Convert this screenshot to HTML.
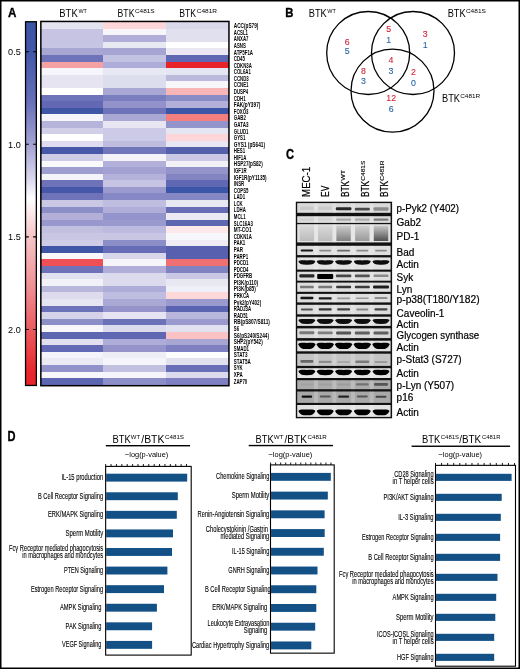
<!DOCTYPE html>
<html><head><meta charset="utf-8"><title>Figure</title>
<style>
html,body{margin:0;padding:0;background:#fff;}
body{width:520px;height:669px;overflow:hidden;}
svg{display:block;font-family:'Liberation Sans', Arial, Helvetica, sans-serif;}
</style></head><body>
<svg width="520" height="669" viewBox="0 0 520 669">
<rect width="520" height="669" fill="#fff"/>
<text x="7.90" y="17.00" font-size="13.4" font-weight="bold" textLength="8.40" lengthAdjust="spacingAndGlyphs" stroke="#000" stroke-width="0.35">A</text>
<text x="59.30" y="16.60" font-size="10.6" textLength="18.40" lengthAdjust="spacingAndGlyphs">BTK</text>
<text x="78.40" y="12.60" font-size="5.6" textLength="8.40" lengthAdjust="spacingAndGlyphs">WT</text>
<text x="117.60" y="16.60" font-size="10.6" textLength="16.80" lengthAdjust="spacingAndGlyphs">BTK</text>
<text x="134.90" y="12.60" font-size="5.6" textLength="19.80" lengthAdjust="spacingAndGlyphs">C481S</text>
<text x="179.30" y="16.60" font-size="10.6" textLength="16.80" lengthAdjust="spacingAndGlyphs">BTK</text>
<text x="196.70" y="12.60" font-size="5.6" textLength="20.40" lengthAdjust="spacingAndGlyphs">C481R</text>
<defs>
<linearGradient id="cb" x1="0" y1="0" x2="0" y2="1">
<stop offset="0" stop-color="#3d55a5"/>
<stop offset="0.08" stop-color="#4157a7"/>
<stop offset="0.22" stop-color="#6870b8"/>
<stop offset="0.34" stop-color="#a5a4d3"/>
<stop offset="0.43" stop-color="#d8d6ec"/>
<stop offset="0.485" stop-color="#ffffff"/>
<stop offset="0.59" stop-color="#f6c6c8"/>
<stop offset="0.72" stop-color="#f09397"/>
<stop offset="0.85" stop-color="#eb5a5e"/>
<stop offset="0.96" stop-color="#e8282d"/>
<stop offset="1" stop-color="#e82429"/>
</linearGradient>
<filter id="bl" x="-20%" y="-50%" width="140%" height="200%"><feGaussianBlur stdDeviation="0.55"/></filter>
<filter id="bl2" x="-20%" y="-50%" width="140%" height="200%"><feGaussianBlur stdDeviation="0.9"/></filter>
</defs>
<rect x="25.55" y="21.75" width="10.8" height="363.7" fill="url(#cb)" stroke="#000" stroke-width="1.3"/>
<path d="M25.6 51.8h3.2M36.3 51.8h-3.2" stroke="#000" stroke-width="1.1"/>
<text x="8.10" y="55.10" font-size="9.2" textLength="12.70" lengthAdjust="spacingAndGlyphs">0.5</text>
<path d="M25.6 144.3h3.2M36.3 144.3h-3.2" stroke="#000" stroke-width="1.1"/>
<text x="8.10" y="147.60" font-size="9.2" textLength="12.70" lengthAdjust="spacingAndGlyphs">1.0</text>
<path d="M25.6 236.9h3.2M36.3 236.9h-3.2" stroke="#000" stroke-width="1.1"/>
<text x="8.10" y="240.20" font-size="9.2" textLength="12.70" lengthAdjust="spacingAndGlyphs">1.5</text>
<path d="M25.6 329.5h3.2M36.3 329.5h-3.2" stroke="#000" stroke-width="1.1"/>
<text x="8.10" y="332.80" font-size="9.2" textLength="12.70" lengthAdjust="spacingAndGlyphs">2.0</text>
<g shape-rendering="crispEdges">
<rect x="41.00" y="22.00" width="62.30" height="6.89" fill="#e4e3f0"/>
<rect x="103.00" y="22.00" width="63.60" height="6.89" fill="#fcd6d8"/>
<rect x="166.30" y="22.00" width="62.60" height="6.89" fill="#d9d9eb"/>
<rect x="41.00" y="28.59" width="62.30" height="6.89" fill="#c6c4e2"/>
<rect x="103.00" y="28.59" width="63.60" height="6.89" fill="#f5f5fa"/>
<rect x="166.30" y="28.59" width="62.60" height="6.89" fill="#e0e0ef"/>
<rect x="41.00" y="35.19" width="62.30" height="6.89" fill="#c6c4e2"/>
<rect x="103.00" y="35.19" width="63.60" height="6.89" fill="#b0aed8"/>
<rect x="166.30" y="35.19" width="62.60" height="6.89" fill="#e0e0ef"/>
<rect x="41.00" y="41.78" width="62.30" height="6.89" fill="#c6c6e4"/>
<rect x="103.00" y="41.78" width="63.60" height="6.89" fill="#e6e8f2"/>
<rect x="166.30" y="41.78" width="62.60" height="6.89" fill="#ffffff"/>
<rect x="41.00" y="48.38" width="62.30" height="6.89" fill="#a8a6d2"/>
<rect x="103.00" y="48.38" width="63.60" height="6.89" fill="#a6a4d2"/>
<rect x="166.30" y="48.38" width="62.60" height="6.89" fill="#ebe7f3"/>
<rect x="41.00" y="54.98" width="62.30" height="6.89" fill="#6d72b9"/>
<rect x="103.00" y="54.98" width="63.60" height="6.89" fill="#c4c2e2"/>
<rect x="166.30" y="54.98" width="62.60" height="6.89" fill="#5f68b2"/>
<rect x="41.00" y="61.57" width="62.30" height="6.89" fill="#f4a1a3"/>
<rect x="103.00" y="61.57" width="63.60" height="6.89" fill="#aeacd8"/>
<rect x="166.30" y="61.57" width="62.60" height="6.89" fill="#e82429"/>
<rect x="41.00" y="68.16" width="62.30" height="6.89" fill="#f6f5fb"/>
<rect x="103.00" y="68.16" width="63.60" height="6.89" fill="#e8e8f4"/>
<rect x="166.30" y="68.16" width="62.60" height="6.89" fill="#e4e6f1"/>
<rect x="41.00" y="74.76" width="62.30" height="6.89" fill="#e6e4f0"/>
<rect x="103.00" y="74.76" width="63.60" height="6.89" fill="#dcdeee"/>
<rect x="166.30" y="74.76" width="62.60" height="6.89" fill="#bbb9dc"/>
<rect x="41.00" y="81.35" width="62.30" height="6.89" fill="#e6e4f0"/>
<rect x="103.00" y="81.35" width="63.60" height="6.89" fill="#dcdeee"/>
<rect x="166.30" y="81.35" width="62.60" height="6.89" fill="#f7f7fb"/>
<rect x="41.00" y="87.95" width="62.30" height="6.89" fill="#ffffff"/>
<rect x="103.00" y="87.95" width="63.60" height="6.89" fill="#a9a7d4"/>
<rect x="166.30" y="87.95" width="62.60" height="6.89" fill="#f8b6b8"/>
<rect x="41.00" y="94.55" width="62.30" height="6.89" fill="#6d72b9"/>
<rect x="103.00" y="94.55" width="63.60" height="6.89" fill="#7a7ebf"/>
<rect x="166.30" y="94.55" width="62.60" height="6.89" fill="#898bc6"/>
<rect x="41.00" y="101.14" width="62.30" height="6.89" fill="#6268b4"/>
<rect x="103.00" y="101.14" width="63.60" height="6.89" fill="#9392ca"/>
<rect x="166.30" y="101.14" width="62.60" height="6.89" fill="#b2b0d9"/>
<rect x="41.00" y="107.73" width="62.30" height="6.89" fill="#3f55a5"/>
<rect x="103.00" y="107.73" width="63.60" height="6.89" fill="#6e72b9"/>
<rect x="166.30" y="107.73" width="62.60" height="6.89" fill="#3d55a6"/>
<rect x="41.00" y="114.33" width="62.30" height="6.89" fill="#f5f4fa"/>
<rect x="103.00" y="114.33" width="63.60" height="6.89" fill="#a9a7d4"/>
<rect x="166.30" y="114.33" width="62.60" height="6.89" fill="#f27e7e"/>
<rect x="41.00" y="120.92" width="62.30" height="6.89" fill="#b6b4da"/>
<rect x="103.00" y="120.92" width="63.60" height="6.89" fill="#e8e6f2"/>
<rect x="166.30" y="120.92" width="62.60" height="6.89" fill="#9294cb"/>
<rect x="41.00" y="127.52" width="62.30" height="6.89" fill="#d2d0e8"/>
<rect x="103.00" y="127.52" width="63.60" height="6.89" fill="#cccae6"/>
<rect x="166.30" y="127.52" width="62.60" height="6.89" fill="#e4e6f1"/>
<rect x="41.00" y="134.12" width="62.30" height="6.89" fill="#ffffff"/>
<rect x="103.00" y="134.12" width="63.60" height="6.89" fill="#cccae6"/>
<rect x="166.30" y="134.12" width="62.60" height="6.89" fill="#fcd6d8"/>
<rect x="41.00" y="140.71" width="62.30" height="6.89" fill="#dedcee"/>
<rect x="103.00" y="140.71" width="63.60" height="6.89" fill="#bebcdf"/>
<rect x="166.30" y="140.71" width="62.60" height="6.89" fill="#e8e6f2"/>
<rect x="41.00" y="147.31" width="62.30" height="6.89" fill="#4758a9"/>
<rect x="103.00" y="147.31" width="63.60" height="6.89" fill="#7176bb"/>
<rect x="166.30" y="147.31" width="62.60" height="6.89" fill="#5560ad"/>
<rect x="41.00" y="153.90" width="62.30" height="6.89" fill="#cecce6"/>
<rect x="103.00" y="153.90" width="63.60" height="6.89" fill="#f4f3f9"/>
<rect x="166.30" y="153.90" width="62.60" height="6.89" fill="#cbc9e5"/>
<rect x="41.00" y="160.50" width="62.30" height="6.89" fill="#fafafd"/>
<rect x="103.00" y="160.50" width="63.60" height="6.89" fill="#b2b0d9"/>
<rect x="166.30" y="160.50" width="62.60" height="6.89" fill="#f2f1f8"/>
<rect x="41.00" y="167.09" width="62.30" height="6.89" fill="#9e9ed0"/>
<rect x="103.00" y="167.09" width="63.60" height="6.89" fill="#a2a1d2"/>
<rect x="166.30" y="167.09" width="62.60" height="6.89" fill="#9494cb"/>
<rect x="41.00" y="173.69" width="62.30" height="6.89" fill="#f4f4fa"/>
<rect x="103.00" y="173.69" width="63.60" height="6.89" fill="#b4b2da"/>
<rect x="166.30" y="173.69" width="62.60" height="6.89" fill="#8385c3"/>
<rect x="41.00" y="180.28" width="62.30" height="6.89" fill="#6d72b9"/>
<rect x="103.00" y="180.28" width="63.60" height="6.89" fill="#c6c4e2"/>
<rect x="166.30" y="180.28" width="62.60" height="6.89" fill="#6168b3"/>
<rect x="41.00" y="186.88" width="62.30" height="6.89" fill="#4457a8"/>
<rect x="103.00" y="186.88" width="63.60" height="6.89" fill="#9a9acf"/>
<rect x="166.30" y="186.88" width="62.60" height="6.89" fill="#3c56a7"/>
<rect x="41.00" y="193.47" width="62.30" height="6.89" fill="#6e73ba"/>
<rect x="103.00" y="193.47" width="63.60" height="6.89" fill="#8688c5"/>
<rect x="166.30" y="193.47" width="62.60" height="6.89" fill="#8688c5"/>
<rect x="41.00" y="200.06" width="62.30" height="6.89" fill="#cac8e4"/>
<rect x="103.00" y="200.06" width="63.60" height="6.89" fill="#c0bee0"/>
<rect x="166.30" y="200.06" width="62.60" height="6.89" fill="#e6e8f2"/>
<rect x="41.00" y="206.66" width="62.30" height="6.89" fill="#8c8ec8"/>
<rect x="103.00" y="206.66" width="63.60" height="6.89" fill="#b0aed8"/>
<rect x="166.30" y="206.66" width="62.60" height="6.89" fill="#666db6"/>
<rect x="41.00" y="213.25" width="62.30" height="6.89" fill="#b2b0d9"/>
<rect x="103.00" y="213.25" width="63.60" height="6.89" fill="#9294cb"/>
<rect x="166.30" y="213.25" width="62.60" height="6.89" fill="#ebeaf4"/>
<rect x="41.00" y="219.85" width="62.30" height="6.89" fill="#9898ce"/>
<rect x="103.00" y="219.85" width="63.60" height="6.89" fill="#9a9acf"/>
<rect x="166.30" y="219.85" width="62.60" height="6.89" fill="#5d66b1"/>
<rect x="41.00" y="226.44" width="62.30" height="6.89" fill="#c2c0e1"/>
<rect x="103.00" y="226.44" width="63.60" height="6.89" fill="#bcbade"/>
<rect x="166.30" y="226.44" width="62.60" height="6.89" fill="#fde8ea"/>
<rect x="41.00" y="233.04" width="62.30" height="6.89" fill="#c8c6e3"/>
<rect x="103.00" y="233.04" width="63.60" height="6.89" fill="#c8c6e3"/>
<rect x="166.30" y="233.04" width="62.60" height="6.89" fill="#f6f6fb"/>
<rect x="41.00" y="239.63" width="62.30" height="6.89" fill="#cecce6"/>
<rect x="103.00" y="239.63" width="63.60" height="6.89" fill="#8c8ec8"/>
<rect x="166.30" y="239.63" width="62.60" height="6.89" fill="#eeedf6"/>
<rect x="41.00" y="246.23" width="62.30" height="6.89" fill="#3f56a7"/>
<rect x="103.00" y="246.23" width="63.60" height="6.89" fill="#666cb6"/>
<rect x="166.30" y="246.23" width="62.60" height="6.89" fill="#5760ae"/>
<rect x="41.00" y="252.82" width="62.30" height="6.89" fill="#f8f8fc"/>
<rect x="103.00" y="252.82" width="63.60" height="6.89" fill="#d8d6ea"/>
<rect x="166.30" y="252.82" width="62.60" height="6.89" fill="#5760ae"/>
<rect x="41.00" y="259.42" width="62.30" height="6.89" fill="#ef5055"/>
<rect x="103.00" y="259.42" width="63.60" height="6.89" fill="#f6f5fa"/>
<rect x="166.30" y="259.42" width="62.60" height="6.89" fill="#f07072"/>
<rect x="41.00" y="266.01" width="62.30" height="6.89" fill="#6d72b9"/>
<rect x="103.00" y="266.01" width="63.60" height="6.89" fill="#b0aed8"/>
<rect x="166.30" y="266.01" width="62.60" height="6.89" fill="#8082c2"/>
<rect x="41.00" y="272.61" width="62.30" height="6.89" fill="#e2e1ef"/>
<rect x="103.00" y="272.61" width="63.60" height="6.89" fill="#dcdaed"/>
<rect x="166.30" y="272.61" width="62.60" height="6.89" fill="#cac8e4"/>
<rect x="41.00" y="279.20" width="62.30" height="6.89" fill="#f2f1f8"/>
<rect x="103.00" y="279.20" width="63.60" height="6.89" fill="#dcdaed"/>
<rect x="166.30" y="279.20" width="62.60" height="6.89" fill="#e8e8f3"/>
<rect x="41.00" y="285.80" width="62.30" height="6.89" fill="#b8b6da"/>
<rect x="103.00" y="285.80" width="63.60" height="6.89" fill="#aeacd8"/>
<rect x="166.30" y="285.80" width="62.60" height="6.89" fill="#f0f0f8"/>
<rect x="41.00" y="292.39" width="62.30" height="6.89" fill="#dddbed"/>
<rect x="103.00" y="292.39" width="63.60" height="6.89" fill="#c0bee0"/>
<rect x="166.30" y="292.39" width="62.60" height="6.89" fill="#fcd8d9"/>
<rect x="41.00" y="298.99" width="62.30" height="6.89" fill="#e6e5f2"/>
<rect x="103.00" y="298.99" width="63.60" height="6.89" fill="#aaa8d5"/>
<rect x="166.30" y="298.99" width="62.60" height="6.89" fill="#9a9acf"/>
<rect x="41.00" y="305.58" width="62.30" height="6.89" fill="#6c72b8"/>
<rect x="103.00" y="305.58" width="63.60" height="6.89" fill="#9494cb"/>
<rect x="166.30" y="305.58" width="62.60" height="6.89" fill="#5b64b0"/>
<rect x="41.00" y="312.18" width="62.30" height="6.89" fill="#d4d3e9"/>
<rect x="103.00" y="312.18" width="63.60" height="6.89" fill="#e6e4f2"/>
<rect x="166.30" y="312.18" width="62.60" height="6.89" fill="#b8b6da"/>
<rect x="41.00" y="318.77" width="62.30" height="6.89" fill="#8c8ec8"/>
<rect x="103.00" y="318.77" width="63.60" height="6.89" fill="#6c72b8"/>
<rect x="166.30" y="318.77" width="62.60" height="6.89" fill="#9a9acf"/>
<rect x="41.00" y="325.37" width="62.30" height="6.89" fill="#f6f6fb"/>
<rect x="103.00" y="325.37" width="63.60" height="6.89" fill="#dcdaed"/>
<rect x="166.30" y="325.37" width="62.60" height="6.89" fill="#e2e1ef"/>
<rect x="41.00" y="331.96" width="62.30" height="6.89" fill="#5d66b1"/>
<rect x="103.00" y="331.96" width="63.60" height="6.89" fill="#5f67b2"/>
<rect x="166.30" y="331.96" width="62.60" height="6.89" fill="#fbc2c4"/>
<rect x="41.00" y="338.56" width="62.30" height="6.89" fill="#e2e0ef"/>
<rect x="103.00" y="338.56" width="63.60" height="6.89" fill="#aeacd8"/>
<rect x="166.30" y="338.56" width="62.60" height="6.89" fill="#a8a7d4"/>
<rect x="41.00" y="345.15" width="62.30" height="6.89" fill="#6369b4"/>
<rect x="103.00" y="345.15" width="63.60" height="6.89" fill="#9494cb"/>
<rect x="166.30" y="345.15" width="62.60" height="6.89" fill="#7e80c1"/>
<rect x="41.00" y="351.75" width="62.30" height="6.89" fill="#f4f4fa"/>
<rect x="103.00" y="351.75" width="63.60" height="6.89" fill="#ecedf5"/>
<rect x="166.30" y="351.75" width="62.60" height="6.89" fill="#fdfdfe"/>
<rect x="41.00" y="358.34" width="62.30" height="6.89" fill="#e9eaf4"/>
<rect x="103.00" y="358.34" width="63.60" height="6.89" fill="#f4f4fa"/>
<rect x="166.30" y="358.34" width="62.60" height="6.89" fill="#e2e1ef"/>
<rect x="41.00" y="364.94" width="62.30" height="6.89" fill="#9192ca"/>
<rect x="103.00" y="364.94" width="63.60" height="6.89" fill="#c2c0e1"/>
<rect x="166.30" y="364.94" width="62.60" height="6.89" fill="#6a70b7"/>
<rect x="41.00" y="371.53" width="62.30" height="6.89" fill="#f7f7fb"/>
<rect x="103.00" y="371.53" width="63.60" height="6.89" fill="#f4f4fa"/>
<rect x="166.30" y="371.53" width="62.60" height="6.89" fill="#dcdaed"/>
<rect x="41.00" y="378.13" width="62.30" height="6.89" fill="#5d66b1"/>
<rect x="103.00" y="378.13" width="63.60" height="6.89" fill="#8c8ec8"/>
<rect x="166.30" y="378.13" width="62.60" height="6.89" fill="#7e80c1"/>
</g>
<rect x="40.85" y="21.45" width="188.1" height="364.25" fill="none" stroke="#000" stroke-width="1.5"/>
<text x="233.80" y="28.20" font-size="7.6" font-weight="bold" textLength="24.61" lengthAdjust="spacingAndGlyphs">ACC(pS79)</text>
<text x="233.80" y="34.78" font-size="7.6" font-weight="bold" textLength="14.20" lengthAdjust="spacingAndGlyphs">ACSL1</text>
<text x="233.80" y="41.36" font-size="7.6" font-weight="bold" textLength="14.68" lengthAdjust="spacingAndGlyphs">ANXA7</text>
<text x="233.80" y="47.94" font-size="7.6" font-weight="bold" textLength="12.04" lengthAdjust="spacingAndGlyphs">ASNS</text>
<text x="233.80" y="54.53" font-size="7.6" font-weight="bold" textLength="19.26" lengthAdjust="spacingAndGlyphs">ATP5F1A</text>
<text x="233.80" y="61.11" font-size="7.6" font-weight="bold" textLength="11.08" lengthAdjust="spacingAndGlyphs">CD45</text>
<text x="233.80" y="67.69" font-size="7.6" font-weight="bold" textLength="18.05" lengthAdjust="spacingAndGlyphs">CDKN3A</text>
<text x="233.80" y="74.27" font-size="7.6" font-weight="bold" textLength="17.09" lengthAdjust="spacingAndGlyphs">COL6A1</text>
<text x="233.80" y="80.85" font-size="7.6" font-weight="bold" textLength="14.92" lengthAdjust="spacingAndGlyphs">CCND3</text>
<text x="233.80" y="87.44" font-size="7.6" font-weight="bold" textLength="14.68" lengthAdjust="spacingAndGlyphs">CCNE1</text>
<text x="233.80" y="94.02" font-size="7.6" font-weight="bold" textLength="14.45" lengthAdjust="spacingAndGlyphs">DUSP4</text>
<text x="233.80" y="100.60" font-size="7.6" font-weight="bold" textLength="11.79" lengthAdjust="spacingAndGlyphs">CDH1</text>
<text x="233.80" y="107.18" font-size="7.6" font-weight="bold" textLength="26.54" lengthAdjust="spacingAndGlyphs">FAK(pY397)</text>
<text x="233.80" y="113.76" font-size="7.6" font-weight="bold" textLength="14.68" lengthAdjust="spacingAndGlyphs">FOXO3</text>
<text x="233.80" y="120.35" font-size="7.6" font-weight="bold" textLength="12.04" lengthAdjust="spacingAndGlyphs">GAB2</text>
<text x="233.80" y="126.93" font-size="7.6" font-weight="bold" textLength="14.68" lengthAdjust="spacingAndGlyphs">GATA3</text>
<text x="233.80" y="133.51" font-size="7.6" font-weight="bold" textLength="14.68" lengthAdjust="spacingAndGlyphs">GLUD1</text>
<text x="233.80" y="140.09" font-size="7.6" font-weight="bold" textLength="11.56" lengthAdjust="spacingAndGlyphs">GYS1</text>
<text x="233.80" y="146.67" font-size="7.6" font-weight="bold" textLength="31.31" lengthAdjust="spacingAndGlyphs">GYS1 (pS641)</text>
<text x="233.80" y="153.26" font-size="7.6" font-weight="bold" textLength="11.32" lengthAdjust="spacingAndGlyphs">HES1</text>
<text x="233.80" y="159.84" font-size="7.6" font-weight="bold" textLength="12.52" lengthAdjust="spacingAndGlyphs">HIF1A</text>
<text x="233.80" y="166.42" font-size="7.6" font-weight="bold" textLength="28.95" lengthAdjust="spacingAndGlyphs">HSP27(pS82)</text>
<text x="233.80" y="173.00" font-size="7.6" font-weight="bold" textLength="12.76" lengthAdjust="spacingAndGlyphs">IGF1R</text>
<text x="233.80" y="179.58" font-size="7.6" font-weight="bold" textLength="32.80" lengthAdjust="spacingAndGlyphs">IGF1R(pY1135)</text>
<text x="233.80" y="186.17" font-size="7.6" font-weight="bold" textLength="10.35" lengthAdjust="spacingAndGlyphs">INSR</text>
<text x="233.80" y="192.75" font-size="7.6" font-weight="bold" textLength="14.69" lengthAdjust="spacingAndGlyphs">COPS5</text>
<text x="233.80" y="199.33" font-size="7.6" font-weight="bold" textLength="11.31" lengthAdjust="spacingAndGlyphs">LAD1</text>
<text x="233.80" y="205.91" font-size="7.6" font-weight="bold" textLength="8.90" lengthAdjust="spacingAndGlyphs">LCK</text>
<text x="233.80" y="212.49" font-size="7.6" font-weight="bold" textLength="12.03" lengthAdjust="spacingAndGlyphs">LDHA</text>
<text x="233.80" y="219.08" font-size="7.6" font-weight="bold" textLength="11.79" lengthAdjust="spacingAndGlyphs">MCL1</text>
<text x="233.80" y="225.66" font-size="7.6" font-weight="bold" textLength="19.02" lengthAdjust="spacingAndGlyphs">SLC16A3</text>
<text x="233.80" y="232.24" font-size="7.6" font-weight="bold" textLength="17.69" lengthAdjust="spacingAndGlyphs">MT-CO1</text>
<text x="233.80" y="238.82" font-size="7.6" font-weight="bold" textLength="18.05" lengthAdjust="spacingAndGlyphs">CDKN1A</text>
<text x="233.80" y="245.40" font-size="7.6" font-weight="bold" textLength="11.56" lengthAdjust="spacingAndGlyphs">PAK1</text>
<text x="233.80" y="251.99" font-size="7.6" font-weight="bold" textLength="9.15" lengthAdjust="spacingAndGlyphs">PAR</text>
<text x="233.80" y="258.57" font-size="7.6" font-weight="bold" textLength="14.45" lengthAdjust="spacingAndGlyphs">PARP1</text>
<text x="233.80" y="265.15" font-size="7.6" font-weight="bold" textLength="14.68" lengthAdjust="spacingAndGlyphs">PDCD1</text>
<text x="233.80" y="271.73" font-size="7.6" font-weight="bold" textLength="14.68" lengthAdjust="spacingAndGlyphs">PDCD4</text>
<text x="233.80" y="278.31" font-size="7.6" font-weight="bold" textLength="18.29" lengthAdjust="spacingAndGlyphs">PDGFRB</text>
<text x="233.80" y="284.90" font-size="7.6" font-weight="bold" textLength="24.38" lengthAdjust="spacingAndGlyphs">PI3K(p110)</text>
<text x="233.80" y="291.48" font-size="7.6" font-weight="bold" textLength="21.97" lengthAdjust="spacingAndGlyphs">PI3K(p85)</text>
<text x="233.80" y="298.06" font-size="7.6" font-weight="bold" textLength="15.40" lengthAdjust="spacingAndGlyphs">PRKCA</text>
<text x="233.80" y="304.64" font-size="7.6" font-weight="bold" textLength="27.42" lengthAdjust="spacingAndGlyphs">Pyk2(pY402)</text>
<text x="233.80" y="311.23" font-size="7.6" font-weight="bold" textLength="17.33" lengthAdjust="spacingAndGlyphs">RAD23A</text>
<text x="233.80" y="317.81" font-size="7.6" font-weight="bold" textLength="14.20" lengthAdjust="spacingAndGlyphs">RAD51</text>
<text x="233.80" y="324.39" font-size="7.6" font-weight="bold" textLength="36.12" lengthAdjust="spacingAndGlyphs">RB(pS807/S811)</text>
<text x="233.80" y="330.97" font-size="7.6" font-weight="bold" textLength="5.30" lengthAdjust="spacingAndGlyphs">S6</text>
<text x="233.80" y="337.55" font-size="7.6" font-weight="bold" textLength="35.16" lengthAdjust="spacingAndGlyphs">S6(pS240/S244)</text>
<text x="233.80" y="344.14" font-size="7.6" font-weight="bold" textLength="28.95" lengthAdjust="spacingAndGlyphs">SHP2(pY542)</text>
<text x="233.80" y="350.72" font-size="7.6" font-weight="bold" textLength="15.16" lengthAdjust="spacingAndGlyphs">SMAD1</text>
<text x="233.80" y="357.30" font-size="7.6" font-weight="bold" textLength="13.72" lengthAdjust="spacingAndGlyphs">STAT3</text>
<text x="233.80" y="363.88" font-size="7.6" font-weight="bold" textLength="16.85" lengthAdjust="spacingAndGlyphs">STAT5A</text>
<text x="233.80" y="370.46" font-size="7.6" font-weight="bold" textLength="8.91" lengthAdjust="spacingAndGlyphs">SYK</text>
<text x="233.80" y="377.05" font-size="7.6" font-weight="bold" textLength="8.91" lengthAdjust="spacingAndGlyphs">XPA</text>
<text x="233.80" y="383.63" font-size="7.6" font-weight="bold" textLength="13.48" lengthAdjust="spacingAndGlyphs">ZAP70</text>
<text x="285.30" y="16.70" font-size="12.8" font-weight="bold" textLength="8.20" lengthAdjust="spacingAndGlyphs" stroke="#000" stroke-width="0.35">B</text>
<text x="308.80" y="16.60" font-size="10.3" textLength="18.00" lengthAdjust="spacingAndGlyphs">BTK</text>
<text x="327.20" y="12.60" font-size="5.5" textLength="8.60" lengthAdjust="spacingAndGlyphs">WT</text>
<text x="447.70" y="16.60" font-size="10.3" textLength="18.00" lengthAdjust="spacingAndGlyphs">BTK</text>
<text x="465.90" y="12.60" font-size="5.5" textLength="20.00" lengthAdjust="spacingAndGlyphs">C481S</text>
<text x="442.00" y="101.50" font-size="10.3" textLength="18.00" lengthAdjust="spacingAndGlyphs">BTK</text>
<text x="460.20" y="97.50" font-size="5.5" textLength="20.00" lengthAdjust="spacingAndGlyphs">C481R</text>
<circle cx="368.2" cy="53.0" r="41.5" fill="none" stroke="#000" stroke-width="1.3"/>
<circle cx="413.0" cy="53.0" r="41.5" fill="none" stroke="#000" stroke-width="1.3"/>
<circle cx="392.5" cy="90.7" r="41.5" fill="none" stroke="#000" stroke-width="1.3"/>
<text x="347.30" y="44.70" font-size="8.8" fill="#cf2238" text-anchor="middle" stroke="#cf2238" stroke-width="0.1">6</text>
<text x="347.30" y="54.40" font-size="8.8" fill="#2664a2" text-anchor="middle" stroke="#2664a2" stroke-width="0.1">5</text>
<text x="388.80" y="32.20" font-size="8.8" fill="#cf2238" text-anchor="middle" stroke="#cf2238" stroke-width="0.1">5</text>
<text x="388.80" y="43.20" font-size="8.8" fill="#2664a2" text-anchor="middle" stroke="#2664a2" stroke-width="0.1">1</text>
<text x="425.30" y="37.40" font-size="8.8" fill="#cf2238" text-anchor="middle" stroke="#cf2238" stroke-width="0.1">3</text>
<text x="425.30" y="48.40" font-size="8.8" fill="#2664a2" text-anchor="middle" stroke="#2664a2" stroke-width="0.1">1</text>
<text x="390.90" y="62.90" font-size="8.8" fill="#cf2238" text-anchor="middle" stroke="#cf2238" stroke-width="0.1">4</text>
<text x="390.90" y="73.50" font-size="8.8" fill="#2664a2" text-anchor="middle" stroke="#2664a2" stroke-width="0.1">3</text>
<text x="363.50" y="74.00" font-size="8.8" fill="#cf2238" text-anchor="middle" stroke="#cf2238" stroke-width="0.1">8</text>
<text x="363.50" y="84.40" font-size="8.8" fill="#2664a2" text-anchor="middle" stroke="#2664a2" stroke-width="0.1">3</text>
<text x="413.50" y="75.20" font-size="8.8" fill="#cf2238" text-anchor="middle" stroke="#cf2238" stroke-width="0.1">2</text>
<text x="413.50" y="85.60" font-size="8.8" fill="#2664a2" text-anchor="middle" stroke="#2664a2" stroke-width="0.1">0</text>
<text x="391.20" y="101.20" font-size="8.8" fill="#cf2238" text-anchor="middle" stroke="#cf2238" stroke-width="0.1">12</text>
<text x="391.20" y="111.70" font-size="8.8" fill="#2664a2" text-anchor="middle" stroke="#2664a2" stroke-width="0.1">6</text>
<text x="285.90" y="158.50" font-size="14.0" font-weight="bold" textLength="8.00" lengthAdjust="spacingAndGlyphs" stroke="#000" stroke-width="0.35">C</text>
<g transform="translate(310.00,196.90) rotate(-90)">
<text x="0.00" y="0.00" font-size="10.0" textLength="30.00" lengthAdjust="spacingAndGlyphs" stroke="#000" stroke-width="0.22">MEC-1</text>
</g>
<g transform="translate(329.30,196.90) rotate(-90)">
<text x="0.00" y="0.00" font-size="10.0" textLength="11.10" lengthAdjust="spacingAndGlyphs" stroke="#000" stroke-width="0.22">EV</text>
</g>
<g transform="translate(348.50,196.90) rotate(-90)">
<text x="0.00" y="0.00" font-size="10.0" textLength="16.00" lengthAdjust="spacingAndGlyphs" stroke="#000" stroke-width="0.22">BTK</text>
<text x="16.20" y="-4.00" font-size="5.6" textLength="10.80" lengthAdjust="spacingAndGlyphs" stroke="#000" stroke-width="0.12">WT</text>
</g>
<g transform="translate(368.70,196.90) rotate(-90)">
<text x="0.00" y="0.00" font-size="10.0" textLength="16.00" lengthAdjust="spacingAndGlyphs" stroke="#000" stroke-width="0.22">BTK</text>
<text x="16.20" y="-4.00" font-size="5.6" textLength="20.00" lengthAdjust="spacingAndGlyphs" stroke="#000" stroke-width="0.12">C481S</text>
</g>
<g transform="translate(387.90,196.90) rotate(-90)">
<text x="0.00" y="0.00" font-size="10.0" textLength="16.00" lengthAdjust="spacingAndGlyphs" stroke="#000" stroke-width="0.22">BTK</text>
<text x="16.20" y="-4.00" font-size="5.6" textLength="20.00" lengthAdjust="spacingAndGlyphs" stroke="#000" stroke-width="0.12">C481R</text>
</g>
<rect x="295.8" y="201.7" width="96.30" height="216.60" fill="#111"/>
<rect x="297.2" y="203.1" width="93.40" height="9.70" fill="#dadada"/>
<rect x="314.05" y="203.1" width="4" height="9.70" fill="#fff" fill-opacity="0.2"/>
<rect x="332.40" y="203.1" width="4" height="9.70" fill="#fff" fill-opacity="0.2"/>
<rect x="350.95" y="203.1" width="4" height="9.70" fill="#fff" fill-opacity="0.2"/>
<rect x="369.65" y="203.1" width="4" height="9.70" fill="#fff" fill-opacity="0.2"/>
<rect x="299.90" y="206.55" width="14" height="3.5" rx="1.00" fill="#cbcbcb" filter="url(#bl)"/>
<rect x="318.20" y="206.55" width="14" height="3.5" rx="1.00" fill="#cdcdcd" filter="url(#bl)"/>
<rect x="335.85" y="207.20" width="15.5" height="3.0" rx="1.00" fill="#262626" filter="url(#bl)"/>
<rect x="354.80" y="207.70" width="15" height="2.8" rx="1.00" fill="#4a4a4a" filter="url(#bl)"/>
<rect x="373.50" y="207.20" width="15" height="3.6" rx="1.00" fill="#8c8c8c" filter="url(#bl)"/>
<rect x="297.2" y="216.2" width="93.40" height="6.70" fill="#dcdcdc"/>
<rect x="314.05" y="216.2" width="4" height="6.70" fill="#fff" fill-opacity="0.2"/>
<rect x="332.40" y="216.2" width="4" height="6.70" fill="#fff" fill-opacity="0.2"/>
<rect x="350.95" y="216.2" width="4" height="6.70" fill="#fff" fill-opacity="0.2"/>
<rect x="369.65" y="216.2" width="4" height="6.70" fill="#fff" fill-opacity="0.2"/>
<rect x="299.90" y="218.40" width="14" height="2.4" rx="1.00" fill="#d0d0d0" filter="url(#bl)"/>
<rect x="318.20" y="218.40" width="14" height="2.4" rx="1.00" fill="#d2d2d2" filter="url(#bl)"/>
<rect x="336.10" y="218.50" width="15" height="2.2" rx="1.00" fill="#a8a8a8" filter="url(#bl)"/>
<rect x="354.80" y="218.50" width="15" height="2.2" rx="1.00" fill="#acacac" filter="url(#bl)"/>
<rect x="373.50" y="218.40" width="15" height="2.4" rx="1.00" fill="#7c7c7c" filter="url(#bl)"/>
<rect x="297.2" y="224.2" width="93.40" height="18.20" fill="#e0e0e0"/>
<rect x="314.05" y="224.2" width="4" height="18.20" fill="#fff" fill-opacity="0.2"/>
<rect x="332.40" y="224.2" width="4" height="18.20" fill="#fff" fill-opacity="0.2"/>
<rect x="350.95" y="224.2" width="4" height="18.20" fill="#fff" fill-opacity="0.2"/>
<rect x="369.65" y="224.2" width="4" height="18.20" fill="#fff" fill-opacity="0.2"/>
<rect x="297.2" y="245.8" width="93.40" height="9.30" fill="#dedede"/>
<rect x="314.05" y="245.8" width="4" height="9.30" fill="#fff" fill-opacity="0.2"/>
<rect x="332.40" y="245.8" width="4" height="9.30" fill="#fff" fill-opacity="0.2"/>
<rect x="350.95" y="245.8" width="4" height="9.30" fill="#fff" fill-opacity="0.2"/>
<rect x="369.65" y="245.8" width="4" height="9.30" fill="#fff" fill-opacity="0.2"/>
<rect x="300.65" y="249.40" width="12.5" height="2.2" rx="1.00" fill="#141414" filter="url(#bl)"/>
<rect x="319.20" y="249.80" width="12" height="1.6" rx="0.80" fill="#8a8a8a" filter="url(#bl)"/>
<rect x="337.10" y="249.70" width="13" height="1.8" rx="0.90" fill="#6a6a6a" filter="url(#bl)"/>
<rect x="356.30" y="249.80" width="12" height="1.6" rx="0.80" fill="#8a8a8a" filter="url(#bl)"/>
<rect x="375.00" y="249.80" width="12" height="1.6" rx="0.80" fill="#8a8a8a" filter="url(#bl)"/>
<rect x="297.2" y="257.4" width="93.40" height="12.20" fill="#e2e2e2"/>
<rect x="314.05" y="257.4" width="4" height="12.20" fill="#fff" fill-opacity="0.2"/>
<rect x="332.40" y="257.4" width="4" height="12.20" fill="#fff" fill-opacity="0.2"/>
<rect x="350.95" y="257.4" width="4" height="12.20" fill="#fff" fill-opacity="0.2"/>
<rect x="369.65" y="257.4" width="4" height="12.20" fill="#fff" fill-opacity="0.2"/>
<path d="M298.40 261.40C299.40 260.30 301.40 260.30 306.90 260.39C312.40 260.30 314.40 260.30 315.40 261.40C314.40 262.94 312.90 264.48 310.40 264.61Q306.90 264.88 303.40 264.61C300.90 264.48 299.40 262.94 298.40 261.40Z" fill="#080808" filter="url(#bl)"/>
<path d="M316.70 261.40C317.70 260.30 319.70 260.30 325.20 260.39C330.70 260.30 332.70 260.30 333.70 261.40C332.70 262.94 331.20 264.48 328.70 264.61Q325.20 264.88 321.70 264.61C319.20 264.48 317.70 262.94 316.70 261.40Z" fill="#080808" filter="url(#bl)"/>
<path d="M335.10 261.40C336.10 260.30 338.10 260.30 343.60 260.39C349.10 260.30 351.10 260.30 352.10 261.40C351.10 262.94 349.60 264.48 347.10 264.61Q343.60 264.88 340.10 264.61C337.60 264.48 336.10 262.94 335.10 261.40Z" fill="#080808" filter="url(#bl)"/>
<path d="M353.80 261.40C354.80 260.30 356.80 260.30 362.30 260.39C367.80 260.30 369.80 260.30 370.80 261.40C369.80 262.94 368.30 264.48 365.80 264.61Q362.30 264.88 358.80 264.61C356.30 264.48 354.80 262.94 353.80 261.40Z" fill="#080808" filter="url(#bl)"/>
<path d="M372.50 261.40C373.50 260.30 375.50 260.30 381.00 260.39C386.50 260.30 388.50 260.30 389.50 261.40C388.50 262.94 387.00 264.48 384.50 264.61Q381.00 264.88 377.50 264.61C375.00 264.48 373.50 262.94 372.50 261.40Z" fill="#080808" filter="url(#bl)"/>
<rect x="297.2" y="271.7" width="93.40" height="9.00" fill="#dedede"/>
<rect x="314.05" y="271.7" width="4" height="9.00" fill="#fff" fill-opacity="0.2"/>
<rect x="332.40" y="271.7" width="4" height="9.00" fill="#fff" fill-opacity="0.2"/>
<rect x="350.95" y="271.7" width="4" height="9.00" fill="#fff" fill-opacity="0.2"/>
<rect x="369.65" y="271.7" width="4" height="9.00" fill="#fff" fill-opacity="0.2"/>
<rect x="299.40" y="274.20" width="15" height="3.2" rx="1.00" fill="#262626" filter="url(#bl)"/>
<rect x="317.20" y="274.10" width="16" height="5.0" rx="1.00" fill="#060606" filter="url(#bl)"/>
<rect x="335.85" y="274.40" width="15.5" height="2.8" rx="1.00" fill="#474747" filter="url(#bl)"/>
<rect x="354.80" y="274.40" width="15" height="2.8" rx="1.00" fill="#555555" filter="url(#bl)"/>
<rect x="373.50" y="274.50" width="15" height="2.6" rx="1.00" fill="#8a8a8a" filter="url(#bl)"/>
<rect x="297.2" y="282.6" width="93.40" height="9.20" fill="#dedede"/>
<rect x="314.05" y="282.6" width="4" height="9.20" fill="#fff" fill-opacity="0.2"/>
<rect x="332.40" y="282.6" width="4" height="9.20" fill="#fff" fill-opacity="0.2"/>
<rect x="350.95" y="282.6" width="4" height="9.20" fill="#fff" fill-opacity="0.2"/>
<rect x="369.65" y="282.6" width="4" height="9.20" fill="#fff" fill-opacity="0.2"/>
<rect x="299.90" y="285.80" width="14" height="2.4" rx="1.00" fill="#7a7a7a" filter="url(#bl)"/>
<rect x="318.20" y="285.80" width="14" height="2.4" rx="1.00" fill="#777777" filter="url(#bl)"/>
<rect x="336.10" y="285.70" width="15" height="2.6" rx="1.00" fill="#383838" filter="url(#bl)"/>
<rect x="354.80" y="285.70" width="15" height="2.6" rx="1.00" fill="#3a3a3a" filter="url(#bl)"/>
<rect x="373.00" y="285.60" width="16" height="2.8" rx="1.00" fill="#1e1e1e" filter="url(#bl)"/>
<rect x="297.2" y="293.9" width="93.40" height="8.50" fill="#dedede"/>
<rect x="314.05" y="293.9" width="4" height="8.50" fill="#fff" fill-opacity="0.2"/>
<rect x="332.40" y="293.9" width="4" height="8.50" fill="#fff" fill-opacity="0.2"/>
<rect x="350.95" y="293.9" width="4" height="8.50" fill="#fff" fill-opacity="0.2"/>
<rect x="369.65" y="293.9" width="4" height="8.50" fill="#fff" fill-opacity="0.2"/>
<rect x="300.40" y="296.80" width="13" height="2.4" rx="1.00" fill="#141414" filter="url(#bl)"/>
<rect x="318.70" y="297.30" width="13" height="2.2" rx="1.00" fill="#1e1e1e" filter="url(#bl)"/>
<rect x="337.10" y="297.60" width="13" height="1.6" rx="0.80" fill="#9a9a9a" filter="url(#bl)"/>
<rect x="355.80" y="297.40" width="13" height="1.6" rx="0.80" fill="#9a9a9a" filter="url(#bl)"/>
<rect x="374.50" y="297.10" width="13" height="1.8" rx="0.90" fill="#8e8e8e" filter="url(#bl)"/>
<rect x="297.2" y="304.8" width="93.40" height="9.50" fill="#dcdcdc"/>
<rect x="314.05" y="304.8" width="4" height="9.50" fill="#fff" fill-opacity="0.2"/>
<rect x="332.40" y="304.8" width="4" height="9.50" fill="#fff" fill-opacity="0.2"/>
<rect x="350.95" y="304.8" width="4" height="9.50" fill="#fff" fill-opacity="0.2"/>
<rect x="369.65" y="304.8" width="4" height="9.50" fill="#fff" fill-opacity="0.2"/>
<rect x="300.90" y="308.60" width="12" height="2.0" rx="1.00" fill="#555555" filter="url(#bl)"/>
<rect x="318.70" y="308.30" width="13" height="2.2" rx="1.00" fill="#353535" filter="url(#bl)"/>
<rect x="337.10" y="308.30" width="13" height="2.2" rx="1.00" fill="#444444" filter="url(#bl)"/>
<rect x="356.30" y="308.60" width="12" height="2.0" rx="1.00" fill="#888888" filter="url(#bl)"/>
<rect x="374.50" y="308.30" width="13" height="2.2" rx="1.00" fill="#444444" filter="url(#bl)"/>
<rect x="297.2" y="316.7" width="93.40" height="9.20" fill="#e0e0e0"/>
<rect x="314.05" y="316.7" width="4" height="9.20" fill="#fff" fill-opacity="0.2"/>
<rect x="332.40" y="316.7" width="4" height="9.20" fill="#fff" fill-opacity="0.2"/>
<rect x="350.95" y="316.7" width="4" height="9.20" fill="#fff" fill-opacity="0.2"/>
<rect x="369.65" y="316.7" width="4" height="9.20" fill="#fff" fill-opacity="0.2"/>
<path d="M298.40 320.23C299.40 319.00 301.40 319.00 306.90 319.10C312.40 319.00 314.40 319.00 315.40 320.23C314.40 321.94 312.90 323.65 310.40 323.80Q306.90 324.10 303.40 323.80C300.90 323.65 299.40 321.94 298.40 320.23Z" fill="#080808" filter="url(#bl)"/>
<path d="M316.70 320.23C317.70 319.00 319.70 319.00 325.20 319.10C330.70 319.00 332.70 319.00 333.70 320.23C332.70 321.94 331.20 323.65 328.70 323.80Q325.20 324.10 321.70 323.80C319.20 323.65 317.70 321.94 316.70 320.23Z" fill="#080808" filter="url(#bl)"/>
<path d="M335.10 320.23C336.10 319.00 338.10 319.00 343.60 319.10C349.10 319.00 351.10 319.00 352.10 320.23C351.10 321.94 349.60 323.65 347.10 323.80Q343.60 324.10 340.10 323.80C337.60 323.65 336.10 321.94 335.10 320.23Z" fill="#080808" filter="url(#bl)"/>
<path d="M353.80 320.23C354.80 319.00 356.80 319.00 362.30 319.10C367.80 319.00 369.80 319.00 370.80 320.23C369.80 321.94 368.30 323.65 365.80 323.80Q362.30 324.10 358.80 323.80C356.30 323.65 354.80 321.94 353.80 320.23Z" fill="#080808" filter="url(#bl)"/>
<path d="M372.50 320.23C373.50 319.00 375.50 319.00 381.00 319.10C386.50 319.00 388.50 319.00 389.50 320.23C388.50 321.94 387.00 323.65 384.50 323.80Q381.00 324.10 377.50 323.80C375.00 323.65 373.50 321.94 372.50 320.23Z" fill="#080808" filter="url(#bl)"/>
<rect x="297.2" y="328.4" width="93.40" height="9.70" fill="#dadada"/>
<rect x="314.05" y="328.4" width="4" height="9.70" fill="#fff" fill-opacity="0.2"/>
<rect x="332.40" y="328.4" width="4" height="9.70" fill="#fff" fill-opacity="0.2"/>
<rect x="350.95" y="328.4" width="4" height="9.70" fill="#fff" fill-opacity="0.2"/>
<rect x="369.65" y="328.4" width="4" height="9.70" fill="#fff" fill-opacity="0.2"/>
<rect x="299.40" y="331.30" width="15" height="3.0" rx="1.00" fill="#7a7a7a" filter="url(#bl)"/>
<rect x="317.70" y="331.50" width="15" height="2.8" rx="1.00" fill="#7e7e7e" filter="url(#bl)"/>
<rect x="336.10" y="331.40" width="15" height="3.0" rx="1.00" fill="#555555" filter="url(#bl)"/>
<rect x="354.80" y="331.40" width="15" height="3.0" rx="1.00" fill="#5e5e5e" filter="url(#bl)"/>
<rect x="373.50" y="331.40" width="15" height="3.0" rx="1.00" fill="#5e5e5e" filter="url(#bl)"/>
<rect x="297.2" y="340.7" width="93.40" height="10.60" fill="#dedede"/>
<rect x="314.05" y="340.7" width="4" height="10.60" fill="#fff" fill-opacity="0.2"/>
<rect x="332.40" y="340.7" width="4" height="10.60" fill="#fff" fill-opacity="0.2"/>
<rect x="350.95" y="340.7" width="4" height="10.60" fill="#fff" fill-opacity="0.2"/>
<rect x="369.65" y="340.7" width="4" height="10.60" fill="#fff" fill-opacity="0.2"/>
<path d="M298.15 344.35C299.15 342.80 301.15 342.80 306.90 342.92C312.65 342.80 314.65 342.80 315.65 344.35C314.65 346.52 313.15 348.69 310.65 348.88Q306.90 349.25 303.15 348.88C300.65 348.69 299.15 346.52 298.15 344.35Z" fill="#050505" filter="url(#bl)"/>
<path d="M316.45 344.35C317.45 342.80 319.45 342.80 325.20 342.92C330.95 342.80 332.95 342.80 333.95 344.35C332.95 346.52 331.45 348.69 328.95 348.88Q325.20 349.25 321.45 348.88C318.95 348.69 317.45 346.52 316.45 344.35Z" fill="#050505" filter="url(#bl)"/>
<path d="M334.85 344.35C335.85 342.80 337.85 342.80 343.60 342.92C349.35 342.80 351.35 342.80 352.35 344.35C351.35 346.52 349.85 348.69 347.35 348.88Q343.60 349.25 339.85 348.88C337.35 348.69 335.85 346.52 334.85 344.35Z" fill="#050505" filter="url(#bl)"/>
<path d="M353.55 344.35C354.55 342.80 356.55 342.80 362.30 342.92C368.05 342.80 370.05 342.80 371.05 344.35C370.05 346.52 368.55 348.69 366.05 348.88Q362.30 349.25 358.55 348.88C356.05 348.69 354.55 346.52 353.55 344.35Z" fill="#050505" filter="url(#bl)"/>
<path d="M372.25 344.35C373.25 342.80 375.25 342.80 381.00 342.92C386.75 342.80 388.75 342.80 389.75 344.35C388.75 346.52 387.25 348.69 384.75 348.88Q381.00 349.25 377.25 348.88C374.75 348.69 373.25 346.52 372.25 344.35Z" fill="#050505" filter="url(#bl)"/>
<rect x="297.2" y="353.7" width="93.40" height="12.20" fill="#c4c4c4"/>
<rect x="314.05" y="353.7" width="4" height="12.20" fill="#fff" fill-opacity="0.2"/>
<rect x="332.40" y="353.7" width="4" height="12.20" fill="#fff" fill-opacity="0.2"/>
<rect x="350.95" y="353.7" width="4" height="12.20" fill="#fff" fill-opacity="0.2"/>
<rect x="369.65" y="353.7" width="4" height="12.20" fill="#fff" fill-opacity="0.2"/>
<rect x="300.40" y="360.10" width="13" height="2.6" rx="1.00" fill="#666666" filter="url(#bl)"/>
<rect x="318.70" y="360.70" width="13" height="2.2" rx="1.00" fill="#8c8c8c" filter="url(#bl)"/>
<rect x="337.10" y="361.00" width="13" height="2.0" rx="1.00" fill="#a8a8a8" filter="url(#bl)"/>
<rect x="355.30" y="360.60" width="14" height="2.4" rx="1.00" fill="#7a7a7a" filter="url(#bl)"/>
<rect x="374.50" y="361.00" width="13" height="2.0" rx="1.00" fill="#9a9a9a" filter="url(#bl)"/>
<rect x="297.2" y="368.2" width="93.40" height="9.80" fill="#e4e4e4"/>
<rect x="314.05" y="368.2" width="4" height="9.80" fill="#fff" fill-opacity="0.2"/>
<rect x="332.40" y="368.2" width="4" height="9.80" fill="#fff" fill-opacity="0.2"/>
<rect x="350.95" y="368.2" width="4" height="9.80" fill="#fff" fill-opacity="0.2"/>
<rect x="369.65" y="368.2" width="4" height="9.80" fill="#fff" fill-opacity="0.2"/>
<path d="M298.40 371.15C299.40 369.80 301.40 369.80 306.90 369.91C312.40 369.80 314.40 369.80 315.40 371.15C314.40 373.04 312.90 374.93 310.40 375.09Q306.90 375.42 303.40 375.09C300.90 374.93 299.40 373.04 298.40 371.15Z" fill="#050505" filter="url(#bl)"/>
<path d="M316.70 371.15C317.70 369.80 319.70 369.80 325.20 369.91C330.70 369.80 332.70 369.80 333.70 371.15C332.70 373.04 331.20 374.93 328.70 375.09Q325.20 375.42 321.70 375.09C319.20 374.93 317.70 373.04 316.70 371.15Z" fill="#050505" filter="url(#bl)"/>
<path d="M335.10 371.15C336.10 369.80 338.10 369.80 343.60 369.91C349.10 369.80 351.10 369.80 352.10 371.15C351.10 373.04 349.60 374.93 347.10 375.09Q343.60 375.42 340.10 375.09C337.60 374.93 336.10 373.04 335.10 371.15Z" fill="#050505" filter="url(#bl)"/>
<path d="M353.80 371.15C354.80 369.80 356.80 369.80 362.30 369.91C367.80 369.80 369.80 369.80 370.80 371.15C369.80 373.04 368.30 374.93 365.80 375.09Q362.30 375.42 358.80 375.09C356.30 374.93 354.80 373.04 353.80 371.15Z" fill="#050505" filter="url(#bl)"/>
<path d="M372.50 371.15C373.50 369.80 375.50 369.80 381.00 369.91C386.50 369.80 388.50 369.80 389.50 371.15C388.50 373.04 387.00 374.93 384.50 375.09Q381.00 375.42 377.50 375.09C375.00 374.93 373.50 373.04 372.50 371.15Z" fill="#050505" filter="url(#bl)"/>
<rect x="297.2" y="380.2" width="93.40" height="9.00" fill="#ababab"/>
<rect x="314.05" y="380.2" width="4" height="9.00" fill="#fff" fill-opacity="0.2"/>
<rect x="332.40" y="380.2" width="4" height="9.00" fill="#fff" fill-opacity="0.2"/>
<rect x="350.95" y="380.2" width="4" height="9.00" fill="#fff" fill-opacity="0.2"/>
<rect x="369.65" y="380.2" width="4" height="9.00" fill="#fff" fill-opacity="0.2"/>
<rect x="300.40" y="383.50" width="13" height="2.0" rx="1.00" fill="#a2a2a2" filter="url(#bl)"/>
<rect x="318.70" y="383.50" width="13" height="2.0" rx="1.00" fill="#a0a0a0" filter="url(#bl)"/>
<rect x="337.10" y="383.50" width="13" height="2.0" rx="1.00" fill="#9c9c9c" filter="url(#bl)"/>
<rect x="355.80" y="383.20" width="13" height="2.4" rx="1.00" fill="#737373" filter="url(#bl)"/>
<rect x="374.00" y="382.90" width="14" height="2.8" rx="1.00" fill="#555555" filter="url(#bl)"/>
<rect x="297.2" y="391.5" width="93.40" height="11.40" fill="#a8a8a8"/>
<rect x="314.05" y="391.5" width="4" height="11.40" fill="#fff" fill-opacity="0.2"/>
<rect x="332.40" y="391.5" width="4" height="11.40" fill="#fff" fill-opacity="0.2"/>
<rect x="350.95" y="391.5" width="4" height="11.40" fill="#fff" fill-opacity="0.2"/>
<rect x="369.65" y="391.5" width="4" height="11.40" fill="#fff" fill-opacity="0.2"/>
<rect x="301.65" y="395.40" width="10.5" height="2.4" rx="1.00" fill="#101010" filter="url(#bl)"/>
<rect x="319.70" y="395.60" width="11" height="2.0" rx="1.00" fill="#555555" filter="url(#bl)"/>
<rect x="338.10" y="395.40" width="11" height="2.4" rx="1.00" fill="#262626" filter="url(#bl)"/>
<rect x="356.80" y="395.60" width="11" height="2.0" rx="1.00" fill="#555555" filter="url(#bl)"/>
<rect x="375.50" y="395.80" width="11" height="2.0" rx="1.00" fill="#444444" filter="url(#bl)"/>
<rect x="297.2" y="405.0" width="93.40" height="11.90" fill="#e2e2e2"/>
<rect x="314.05" y="405.0" width="4" height="11.90" fill="#fff" fill-opacity="0.2"/>
<rect x="332.40" y="405.0" width="4" height="11.90" fill="#fff" fill-opacity="0.2"/>
<rect x="350.95" y="405.0" width="4" height="11.90" fill="#fff" fill-opacity="0.2"/>
<rect x="369.65" y="405.0" width="4" height="11.90" fill="#fff" fill-opacity="0.2"/>
<path d="M298.40 410.88C299.40 409.40 301.40 409.40 306.90 409.52C312.40 409.40 314.40 409.40 315.40 410.88C314.40 412.94 312.90 415.00 310.40 415.18Q306.90 415.54 303.40 415.18C300.90 415.00 299.40 412.94 298.40 410.88Z" fill="#050505" filter="url(#bl)"/>
<path d="M316.70 410.88C317.70 409.40 319.70 409.40 325.20 409.52C330.70 409.40 332.70 409.40 333.70 410.88C332.70 412.94 331.20 415.00 328.70 415.18Q325.20 415.54 321.70 415.18C319.20 415.00 317.70 412.94 316.70 410.88Z" fill="#050505" filter="url(#bl)"/>
<path d="M335.10 410.88C336.10 409.40 338.10 409.40 343.60 409.52C349.10 409.40 351.10 409.40 352.10 410.88C351.10 412.94 349.60 415.00 347.10 415.18Q343.60 415.54 340.10 415.18C337.60 415.00 336.10 412.94 335.10 410.88Z" fill="#050505" filter="url(#bl)"/>
<path d="M353.80 410.88C354.80 409.40 356.80 409.40 362.30 409.52C367.80 409.40 369.80 409.40 370.80 410.88C369.80 412.94 368.30 415.00 365.80 415.18Q362.30 415.54 358.80 415.18C356.30 415.00 354.80 412.94 353.80 410.88Z" fill="#050505" filter="url(#bl)"/>
<path d="M372.50 410.88C373.50 409.40 375.50 409.40 381.00 409.52C386.50 409.40 388.50 409.40 389.50 410.88C388.50 412.94 387.00 415.00 384.50 415.18Q381.00 415.54 377.50 415.18C375.00 415.00 373.50 412.94 372.50 410.88Z" fill="#050505" filter="url(#bl)"/>
<defs><linearGradient id="pdA" x1="0" y1="0" x2="0" y2="1"><stop offset="0" stop-color="#d8d8d8"/><stop offset="1" stop-color="#bcbcbc"/></linearGradient>
<linearGradient id="pdB" x1="0" y1="0" x2="0" y2="1"><stop offset="0" stop-color="#cccccc"/><stop offset="1" stop-color="#808080"/></linearGradient>
<linearGradient id="pdD" x1="0" y1="0" x2="0" y2="1"><stop offset="0" stop-color="#d0d0d0"/><stop offset="1" stop-color="#999999"/></linearGradient>
<linearGradient id="pdC" x1="0" y1="0" x2="0" y2="1"><stop offset="0" stop-color="#c8c8c8"/><stop offset="1" stop-color="#505050"/></linearGradient></defs>
<rect x="299.70" y="225.8" width="14.4" height="15.2" fill="url(#pdA)" filter="url(#bl)"/>
<rect x="318.00" y="225.8" width="14.4" height="15.2" fill="url(#pdA)" filter="url(#bl)"/>
<rect x="336.40" y="225.8" width="14.4" height="15.2" fill="url(#pdB)" filter="url(#bl)"/>
<rect x="355.10" y="225.8" width="14.4" height="15.2" fill="url(#pdD)" filter="url(#bl)"/>
<rect x="373.80" y="225.8" width="14.4" height="15.2" fill="url(#pdC)" filter="url(#bl)"/>
<text x="396.60" y="212.40" font-size="10.0" textLength="62.40" lengthAdjust="spacingAndGlyphs" stroke="#000" stroke-width="0.2">p-Pyk2 (Y402)</text>
<text x="396.60" y="225.50" font-size="10.0" stroke="#000" stroke-width="0.2">Gab2</text>
<text x="396.60" y="239.60" font-size="10.0" stroke="#000" stroke-width="0.2">PD-1</text>
<text x="396.60" y="255.90" font-size="10.0" stroke="#000" stroke-width="0.2">Bad</text>
<text x="396.60" y="268.20" font-size="10.0" stroke="#000" stroke-width="0.2">Actin</text>
<text x="396.60" y="281.20" font-size="10.0" stroke="#000" stroke-width="0.2">Syk</text>
<text x="396.60" y="292.70" font-size="10.0" stroke="#000" stroke-width="0.2">Lyn</text>
<text x="396.60" y="302.90" font-size="10.0" textLength="83.00" lengthAdjust="spacingAndGlyphs" stroke="#000" stroke-width="0.2">p-p38(T180/Y182)</text>
<text x="396.60" y="317.00" font-size="10.0" stroke="#000" stroke-width="0.2">Caveolin-1</text>
<text x="396.60" y="327.80" font-size="10.0" stroke="#000" stroke-width="0.2">Actin</text>
<text x="396.60" y="339.40" font-size="10.0" textLength="82.60" lengthAdjust="spacingAndGlyphs" stroke="#000" stroke-width="0.2">Glycogen synthase</text>
<text x="396.60" y="351.40" font-size="10.0" stroke="#000" stroke-width="0.2">Actin</text>
<text x="396.60" y="363.10" font-size="10.0" stroke="#000" stroke-width="0.2">p-Stat3 (S727)</text>
<text x="396.60" y="377.40" font-size="10.0" stroke="#000" stroke-width="0.2">Actin</text>
<text x="396.60" y="389.00" font-size="10.0" stroke="#000" stroke-width="0.2">p-Lyn (Y507)</text>
<text x="396.60" y="401.00" font-size="10.0" stroke="#000" stroke-width="0.2">p16</text>
<text x="396.60" y="416.00" font-size="10.0" stroke="#000" stroke-width="0.2">Actin</text>
<text x="7.60" y="441.30" font-size="13.8" font-weight="bold" textLength="8.00" lengthAdjust="spacingAndGlyphs" stroke="#000" stroke-width="0.35">D</text>
<path d="M105.65 466.40v-2.4M111.04 466.40v-2.4M116.43 466.40v-2.4M121.82 466.40v-2.4M127.21 466.40v-2.4M132.60 466.40v-2.4M137.99 466.40v-2.4M143.38 466.40v-2.4M148.77 466.40v-2.4M154.16 466.40v-2.4M159.55 466.40v-2.4M164.94 466.40v-2.4M170.33 466.40v-2.4M175.72 466.40v-2.4M181.11 466.40v-2.4M186.50 466.40v-2.4" stroke="#000" stroke-width="0.9"/>
<rect x="106.20" y="473.70" width="81.00" height="7.9" fill="#135085"/>
<text x="61.40" y="480.05" font-size="8.4" textLength="41.80" lengthAdjust="spacingAndGlyphs" stroke="#000" stroke-width="0.1">IL-15 production</text>
<rect x="106.20" y="492.28" width="71.60" height="7.9" fill="#135085"/>
<text x="37.90" y="498.63" font-size="8.4" textLength="65.30" lengthAdjust="spacingAndGlyphs" stroke="#000" stroke-width="0.1">B Cell Receptor Signaling</text>
<rect x="106.20" y="510.86" width="70.60" height="7.9" fill="#135085"/>
<text x="48.00" y="517.21" font-size="8.4" textLength="55.20" lengthAdjust="spacingAndGlyphs" stroke="#000" stroke-width="0.1">ERK/MAPK Signaling</text>
<rect x="106.20" y="529.44" width="66.80" height="7.9" fill="#135085"/>
<text x="65.60" y="535.79" font-size="8.4" textLength="37.60" lengthAdjust="spacingAndGlyphs" stroke="#000" stroke-width="0.1">Sperm Motility</text>
<rect x="106.20" y="548.02" width="65.80" height="7.9" fill="#135085"/>
<text x="9.00" y="551.17" font-size="8.4" textLength="94.20" lengthAdjust="spacingAndGlyphs" stroke="#000" stroke-width="0.1">Fcγ Receptor mediated phagocytosis</text>
<text x="22.20" y="558.07" font-size="8.4" textLength="81.00" lengthAdjust="spacingAndGlyphs" stroke="#000" stroke-width="0.1">in macrophages and monocytes</text>
<rect x="106.20" y="566.60" width="61.20" height="7.9" fill="#135085"/>
<text x="64.00" y="572.95" font-size="8.4" textLength="39.20" lengthAdjust="spacingAndGlyphs" stroke="#000" stroke-width="0.1">PTEN Signaling</text>
<rect x="106.20" y="585.18" width="57.80" height="7.9" fill="#135085"/>
<text x="30.90" y="591.53" font-size="8.4" textLength="72.30" lengthAdjust="spacingAndGlyphs" stroke="#000" stroke-width="0.1">Estrogen Receptor Signaling</text>
<rect x="106.20" y="603.76" width="50.70" height="7.9" fill="#135085"/>
<text x="60.00" y="610.11" font-size="8.4" textLength="41.40" lengthAdjust="spacingAndGlyphs" stroke="#000" stroke-width="0.1">AMPK Signaling</text>
<rect x="106.20" y="622.34" width="45.90" height="7.9" fill="#135085"/>
<text x="65.60" y="628.69" font-size="8.4" textLength="35.80" lengthAdjust="spacingAndGlyphs" stroke="#000" stroke-width="0.1">PAK Signaling</text>
<rect x="106.20" y="640.92" width="45.90" height="7.9" fill="#135085"/>
<text x="62.00" y="647.27" font-size="8.4" textLength="39.40" lengthAdjust="spacingAndGlyphs" stroke="#000" stroke-width="0.1">VEGF Signaling</text>
<rect x="105.65" y="466.4" width="85.55" height="188.70" fill="none" stroke="#000" stroke-width="1.1"/>
<text x="112.50" y="443.40" font-size="10.4" textLength="18.30" lengthAdjust="spacingAndGlyphs">BTK</text>
<text x="130.80" y="438.80" font-size="5.6" textLength="9.20" lengthAdjust="spacingAndGlyphs">WT</text>
<text x="141.30" y="443.40" font-size="10.4" textLength="23.10" lengthAdjust="spacingAndGlyphs">/BTK</text>
<text x="165.00" y="438.80" font-size="5.6" textLength="19.00" lengthAdjust="spacingAndGlyphs">C481S</text>
<rect x="105.8" y="445.00" width="84.20" height="1.4" fill="#000"/>
<text x="125.00" y="456.60" font-size="8.0" textLength="43.30" lengthAdjust="spacingAndGlyphs">−log(p-value)</text>
<path d="M270.60 464.90v-2.4M275.63 464.90v-2.4M280.66 464.90v-2.4M285.69 464.90v-2.4M290.72 464.90v-2.4M295.75 464.90v-2.4M300.78 464.90v-2.4M305.81 464.90v-2.4M310.84 464.90v-2.4M315.87 464.90v-2.4M320.90 464.90v-2.4M325.93 464.90v-2.4M330.96 464.90v-2.4" stroke="#000" stroke-width="0.9"/>
<rect x="271.05" y="472.90" width="59.75" height="7.9" fill="#135085"/>
<text x="216.10" y="479.25" font-size="8.4" textLength="53.20" lengthAdjust="spacingAndGlyphs" stroke="#000" stroke-width="0.1">Chemokine Signaling</text>
<rect x="271.05" y="491.63" width="56.75" height="7.9" fill="#135085"/>
<text x="231.70" y="497.98" font-size="8.4" textLength="37.60" lengthAdjust="spacingAndGlyphs" stroke="#000" stroke-width="0.1">Sperm Motility</text>
<rect x="271.05" y="510.36" width="53.55" height="7.9" fill="#135085"/>
<text x="197.60" y="516.71" font-size="8.4" textLength="71.70" lengthAdjust="spacingAndGlyphs" stroke="#000" stroke-width="0.1">Renin-Angiotensin Signaling</text>
<rect x="271.05" y="529.09" width="53.65" height="7.9" fill="#135085"/>
<text x="205.80" y="532.24" font-size="8.4" textLength="62.20" lengthAdjust="spacingAndGlyphs" stroke="#000" stroke-width="0.1">Cholecystokinin /Gastrin</text>
<text x="220.50" y="539.14" font-size="8.4" textLength="48.80" lengthAdjust="spacingAndGlyphs" stroke="#000" stroke-width="0.1">mediated Signaling</text>
<rect x="271.05" y="547.82" width="52.75" height="7.9" fill="#135085"/>
<text x="232.00" y="554.17" font-size="8.4" textLength="37.30" lengthAdjust="spacingAndGlyphs" stroke="#000" stroke-width="0.1">IL-15 Signaling</text>
<rect x="271.05" y="566.55" width="46.45" height="7.9" fill="#135085"/>
<text x="228.30" y="572.90" font-size="8.4" textLength="41.00" lengthAdjust="spacingAndGlyphs" stroke="#000" stroke-width="0.1">GNRH Signaling</text>
<rect x="271.05" y="585.28" width="45.25" height="7.9" fill="#135085"/>
<text x="204.90" y="591.63" font-size="8.4" textLength="65.70" lengthAdjust="spacingAndGlyphs" stroke="#000" stroke-width="0.1">B Cell Receptor Signaling</text>
<rect x="271.05" y="604.01" width="45.25" height="7.9" fill="#135085"/>
<text x="212.30" y="610.36" font-size="8.4" textLength="54.90" lengthAdjust="spacingAndGlyphs" stroke="#000" stroke-width="0.1">ERK/MAPK Signaling</text>
<rect x="271.05" y="622.74" width="44.15" height="7.9" fill="#135085"/>
<text x="207.50" y="625.89" font-size="8.4" textLength="61.80" lengthAdjust="spacingAndGlyphs" stroke="#000" stroke-width="0.1">Leukocyte Extravasation</text>
<text x="243.80" y="632.79" font-size="8.4" textLength="23.40" lengthAdjust="spacingAndGlyphs" stroke="#000" stroke-width="0.1">Signaling</text>
<rect x="271.05" y="641.47" width="40.25" height="7.9" fill="#135085"/>
<text x="191.90" y="647.82" font-size="8.4" textLength="77.40" lengthAdjust="spacingAndGlyphs" stroke="#000" stroke-width="0.1">Cardiac Hypertrophy Signaling</text>
<rect x="270.5" y="464.9" width="63.70" height="188.25" fill="none" stroke="#000" stroke-width="1.1"/>
<text x="255.60" y="443.40" font-size="10.4" textLength="18.20" lengthAdjust="spacingAndGlyphs">BTK</text>
<text x="273.80" y="438.80" font-size="5.6" textLength="9.70" lengthAdjust="spacingAndGlyphs">WT</text>
<text x="284.40" y="443.40" font-size="10.4" textLength="22.50" lengthAdjust="spacingAndGlyphs">/BTK</text>
<text x="307.50" y="438.80" font-size="5.6" textLength="19.20" lengthAdjust="spacingAndGlyphs">C481R</text>
<rect x="248.7" y="444.85" width="84.30" height="1.4" fill="#000"/>
<text x="268.50" y="456.60" font-size="8.0" textLength="43.80" lengthAdjust="spacingAndGlyphs">−log(p-value)</text>
<path d="M435.50 465.35v-2.4M441.58 465.35v-2.4M447.66 465.35v-2.4M453.74 465.35v-2.4M459.82 465.35v-2.4M465.90 465.35v-2.4M471.98 465.35v-2.4M478.06 465.35v-2.4M484.14 465.35v-2.4M490.22 465.35v-2.4M496.30 465.35v-2.4M502.38 465.35v-2.4M508.46 465.35v-2.4M514.54 465.35v-2.4" stroke="#000" stroke-width="0.9"/>
<rect x="436.05" y="473.80" width="75.55" height="7.1" fill="#135085"/>
<text x="394.20" y="476.65" font-size="8.4" textLength="39.40" lengthAdjust="spacingAndGlyphs" stroke="#000" stroke-width="0.1">CD28 Signaling</text>
<text x="392.60" y="483.65" font-size="8.4" textLength="41.00" lengthAdjust="spacingAndGlyphs" stroke="#000" stroke-width="0.1">in T helper cells</text>
<rect x="436.05" y="493.80" width="65.65" height="7.1" fill="#135085"/>
<text x="383.50" y="499.75" font-size="8.4" textLength="50.10" lengthAdjust="spacingAndGlyphs" stroke="#000" stroke-width="0.1">PI3K/AKT Signaling</text>
<rect x="436.05" y="513.80" width="64.75" height="7.1" fill="#135085"/>
<text x="398.20" y="519.75" font-size="8.4" textLength="35.40" lengthAdjust="spacingAndGlyphs" stroke="#000" stroke-width="0.1">IL-3 Signaling</text>
<rect x="436.05" y="533.80" width="64.05" height="7.1" fill="#135085"/>
<text x="361.90" y="539.75" font-size="8.4" textLength="71.70" lengthAdjust="spacingAndGlyphs" stroke="#000" stroke-width="0.1">Estrogen Receptor Signaling</text>
<rect x="436.05" y="553.80" width="64.05" height="7.1" fill="#135085"/>
<text x="368.30" y="559.75" font-size="8.4" textLength="65.30" lengthAdjust="spacingAndGlyphs" stroke="#000" stroke-width="0.1">B Cell Receptor Signaling</text>
<rect x="436.05" y="573.80" width="61.45" height="7.1" fill="#135085"/>
<text x="339.00" y="576.65" font-size="8.4" textLength="94.60" lengthAdjust="spacingAndGlyphs" stroke="#000" stroke-width="0.1">Fcγ Receptor mediated phagocytosis</text>
<text x="352.20" y="583.65" font-size="8.4" textLength="81.40" lengthAdjust="spacingAndGlyphs" stroke="#000" stroke-width="0.1">in macrophages and monocytes</text>
<rect x="436.05" y="593.80" width="60.15" height="7.1" fill="#135085"/>
<text x="392.60" y="599.75" font-size="8.4" textLength="41.00" lengthAdjust="spacingAndGlyphs" stroke="#000" stroke-width="0.1">AMPK Signaling</text>
<rect x="436.05" y="613.80" width="59.25" height="7.1" fill="#135085"/>
<text x="396.00" y="619.75" font-size="8.4" textLength="37.60" lengthAdjust="spacingAndGlyphs" stroke="#000" stroke-width="0.1">Sperm Motility</text>
<rect x="436.05" y="633.80" width="58.15" height="7.1" fill="#135085"/>
<text x="377.00" y="636.65" font-size="8.4" textLength="56.60" lengthAdjust="spacingAndGlyphs" stroke="#000" stroke-width="0.1">ICOS-ICOSL Signaling</text>
<text x="392.60" y="643.65" font-size="8.4" textLength="41.00" lengthAdjust="spacingAndGlyphs" stroke="#000" stroke-width="0.1">in T helper cells</text>
<rect x="436.05" y="653.80" width="58.15" height="7.1" fill="#135085"/>
<text x="397.00" y="659.75" font-size="8.4" textLength="36.60" lengthAdjust="spacingAndGlyphs" stroke="#000" stroke-width="0.1">HGF Signaling</text>
<rect x="435.5" y="465.35" width="80.00" height="200.85" fill="none" stroke="#000" stroke-width="1.1"/>
<text x="421.90" y="443.40" font-size="10.4" textLength="18.30" lengthAdjust="spacingAndGlyphs">BTK</text>
<text x="440.80" y="438.80" font-size="5.6" textLength="18.20" lengthAdjust="spacingAndGlyphs">C481S</text>
<text x="459.20" y="443.40" font-size="10.4" textLength="22.00" lengthAdjust="spacingAndGlyphs">/BTK</text>
<text x="482.10" y="438.80" font-size="5.6" textLength="18.30" lengthAdjust="spacingAndGlyphs">C481R</text>
<rect x="411.6" y="445.55" width="98.50" height="1.4" fill="#000"/>
<text x="438.50" y="456.60" font-size="8.0" textLength="43.60" lengthAdjust="spacingAndGlyphs">−log(p-value)</text>
<rect x="0.75" y="0.75" width="518.5" height="667.5" fill="none" stroke="#000" stroke-width="1.5"/>
</svg>
</body></html>
